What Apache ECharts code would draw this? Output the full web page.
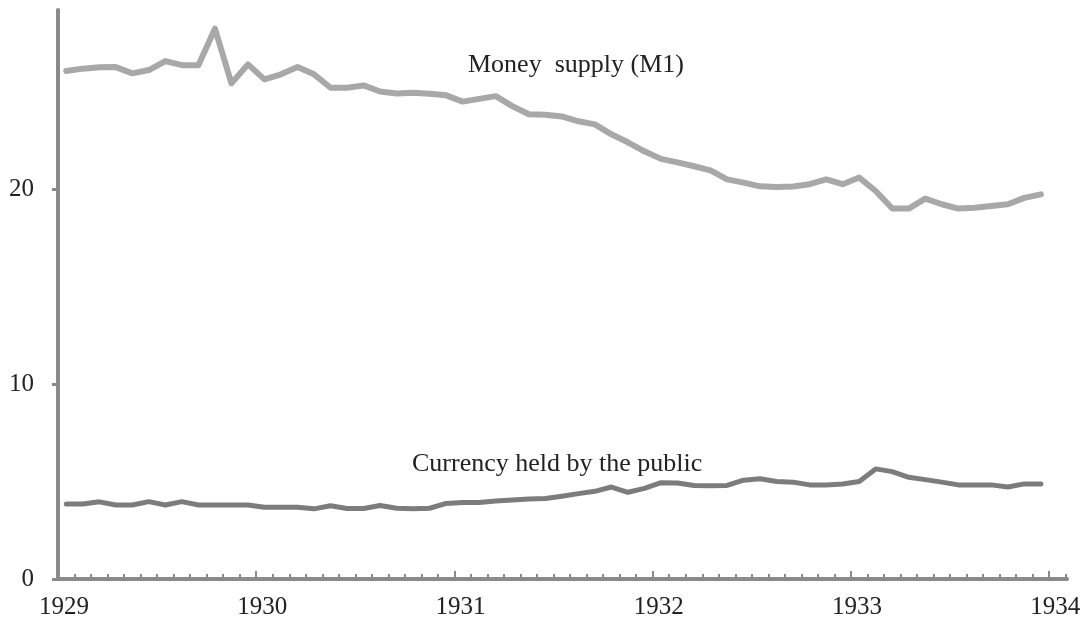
<!DOCTYPE html>
<html>
<head>
<meta charset="utf-8">
<script src="https://cdn.jsdelivr.net/npm/echarts@6/dist/echarts.min.js"></script>
<style>
  html, body { margin: 0; padding: 0; background: #fff; }
  #chart { width: 1086px; height: 620px; }
</style>
</head>
<body>
<div id="chart"></div>
<script>
// monthly data, Jan 1929 .. Dec 1933 (billions of dollars)
var startYear = 1929;
var yearTicks = [1929, 1930, 1931, 1932, 1933, 1934];
var valueTicks = [0, 10, 20];
var moneySupply = [
    26.07, 26.19, 26.26, 26.27, 25.95, 26.12, 26.58, 26.37, 26.37, 28.24, 25.44, 26.41,
    25.64, 25.90, 26.27, 25.90, 25.21, 25.21, 25.33, 25.02, 24.92, 24.95, 24.90, 24.82,
    24.50, 24.64, 24.78, 24.27, 23.85, 23.82, 23.74, 23.49, 23.33, 22.82, 22.41, 21.95,
    21.56, 21.38, 21.18, 20.97, 20.51, 20.34, 20.15, 20.12, 20.14, 20.26, 20.51, 20.26,
    20.60, 19.91, 19.01, 19.01, 19.52, 19.23, 19.01, 19.05, 19.14, 19.23, 19.56, 19.74
];
var currency = [
    3.85, 3.85, 3.96, 3.80, 3.80, 3.97, 3.80, 3.97, 3.80, 3.80, 3.80, 3.80,
    3.68, 3.68, 3.68, 3.60, 3.76, 3.62, 3.62, 3.77, 3.63, 3.60, 3.63, 3.88,
    3.93, 3.93, 4.00, 4.05, 4.10, 4.13, 4.25, 4.38, 4.50, 4.72, 4.45, 4.65,
    4.94, 4.93, 4.80, 4.79, 4.80, 5.07, 5.14, 5.00, 4.97, 4.83, 4.83, 4.88,
    5.00, 5.65, 5.51, 5.22, 5.10, 4.97, 4.83, 4.83, 4.83, 4.72, 4.88, 4.88
];
var seriesNames = ['Money  supply (M1)', 'Currency held by the public'];

// mid-month positions on the year axis
var months = moneySupply.map(function (v, i) { return startYear + (i + 0.5) / 12; });
function pairs(values) {
    return values.map(function (v, i) { return [months[i], v]; });
}

var myChart = echarts.init(document.getElementById('chart'));
var axisColor = '#8a8a8a';
var font = '"Liberation Serif", "DejaVu Serif", serif';

var option = {
    animation: false,
    grid: { left: 58, right: 19, top: 10, bottom: 40 },
    xAxis: {
        type: 'value',
        min: 1929,
        max: 1934.09,
        interval: 1,
        splitLine: { show: false },
        axisLine: { lineStyle: { color: axisColor, width: 4 } },
        axisTick: {
            inside: true,
            length: 8,
            customValues: yearTicks,
            lineStyle: { color: axisColor, width: 2 }
        },
        minorTick: {
            show: true,
            splitNumber: 12,
            length: 5,
            lineStyle: { color: axisColor, width: 2 }
        },
        axisLabel: {
            customValues: yearTicks,
            formatter: function (v) { return String(v); },
            margin: 16,
            padding: [0, 0, 0, 12],
            color: '#222',
            fontFamily: font,
            fontSize: 25
        }
    },
    yAxis: {
        type: 'value',
        min: 0,
        max: 29.2,
        interval: 10,
        splitLine: { show: false },
        axisLine: { show: true, lineStyle: { color: axisColor, width: 4 } },
        axisTick: {
            show: true,
            length: 6,
            customValues: valueTicks,
            lineStyle: { color: axisColor, width: 3 }
        },
        axisLabel: {
            customValues: valueTicks,
            margin: 24,
            color: '#222',
            fontFamily: font,
            fontSize: 25
        }
    },
    series: [
        {
            name: seriesNames[0],
            type: 'line',
            data: pairs(moneySupply),
            showSymbol: false,
            lineStyle: { color: '#a8a8a8', width: 6, join: 'round', cap: 'round' }
        },
        {
            name: seriesNames[1],
            type: 'line',
            data: pairs(currency),
            showSymbol: false,
            lineStyle: { color: '#7c7c7c', width: 5, join: 'round', cap: 'round' }
        }
    ],
    graphic: [
        {
            type: 'text', left: 468, top: 52,
            style: { text: seriesNames[0], fill: '#222', font: '26px ' + font }
        },
        {
            type: 'text', left: 412, top: 451,
            style: { text: seriesNames[1], fill: '#222', font: '26px ' + font }
        }
    ]
};
myChart.setOption(option);
</script>
</body>
</html>
